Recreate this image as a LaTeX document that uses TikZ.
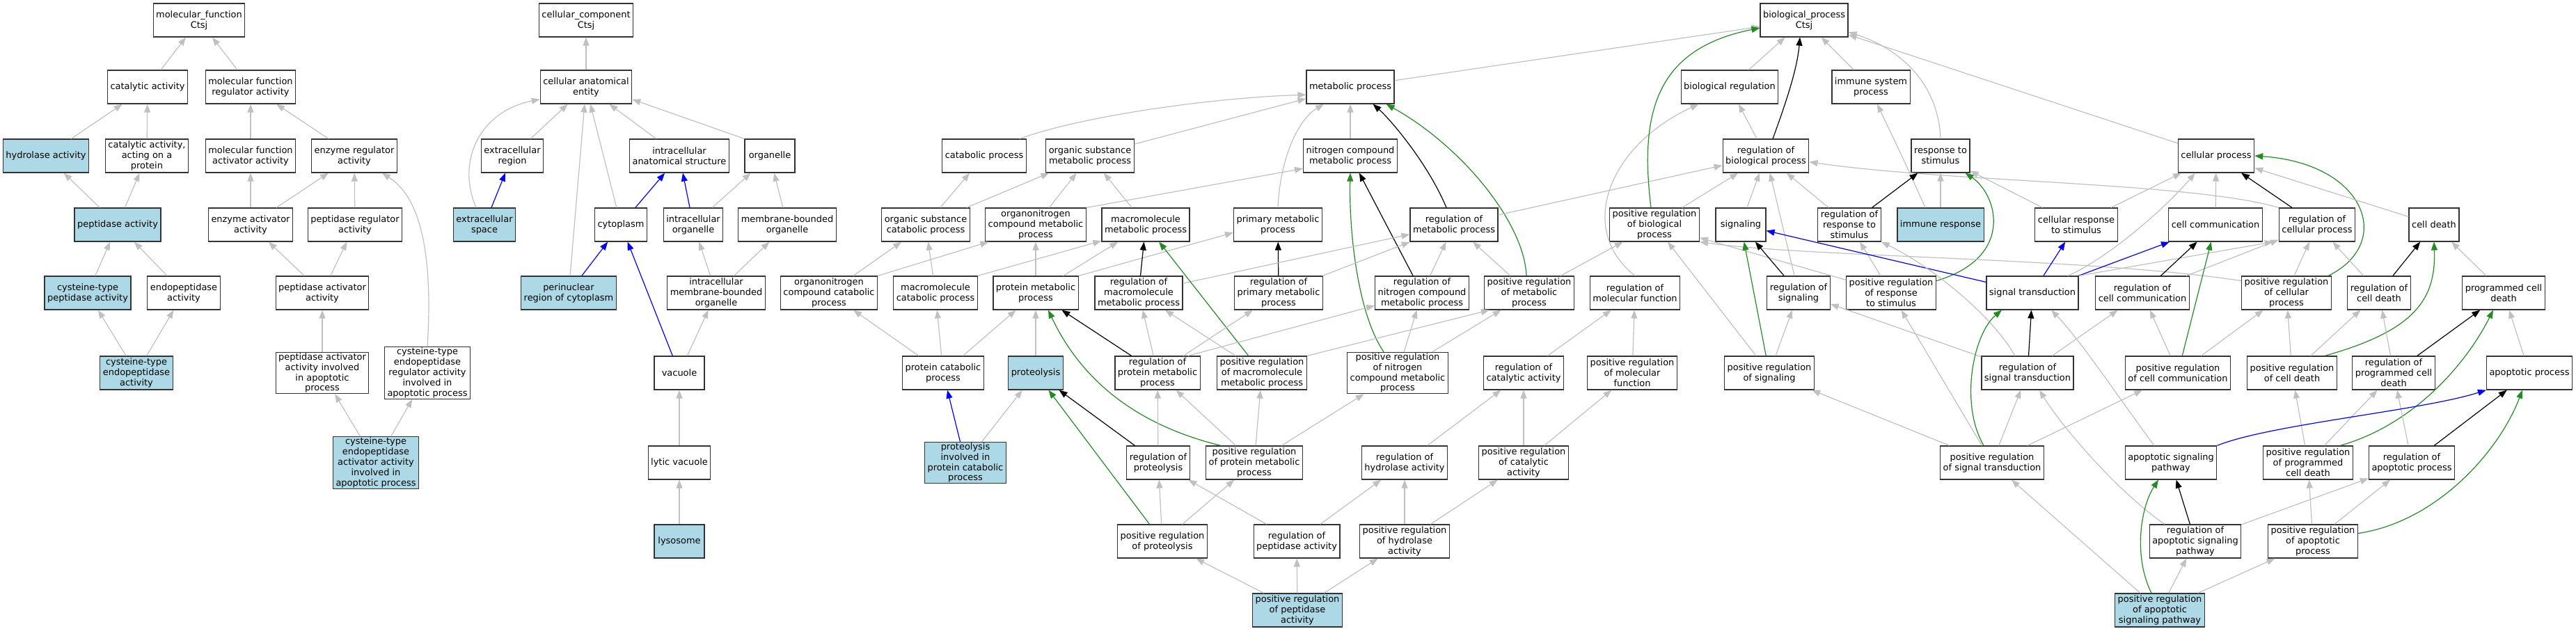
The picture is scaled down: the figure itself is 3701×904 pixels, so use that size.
\documentclass[tikz,border=0pt]{standalone}
\usepackage{fontspec}
\setmainfont{DejaVu Sans}
\usetikzlibrary{arrows.meta}
\definecolor{edgegray}{HTML}{C0C0C0}
\definecolor{termblue}{HTML}{ADD8E6}
\definecolor{posgreen}{HTML}{228B22}
\begin{document}
\begin{tikzpicture}[x=1bp,y=-1bp,
  term/.style={draw=black!80,line width=1.2bp,fill=white,align=center,
    font={\fontsize{13}{15}\selectfont},inner xsep=4bp,inner ysep=1bp,
    minimum height=48bp,minimum width=72bp},
  hit/.style={term,fill=termblue},
  link/.style={line width=1.2bp,-{Triangle[length=12bp,width=9bp]}},
  isa/.style={link,draw=edgegray},
  regl/.style={link,draw=black},
  partof/.style={link,draw=blue},
  posreg/.style={link,draw=posgreen}]
\useasboundingbox (0,0) rectangle (3701,904);

% Molecular function terms
\node[term] (mf) at (286,29) {molecular\_function\\Ctsj};
\node[term] (catact) at (212,125) {catalytic activity};
\node[term] (mfreg) at (360,125) {molecular function\\regulator activity};
\node[hit] (hydro) at (66,224) {hydrolase activity};
\node[term] (catprot) at (211,224) {catalytic activity,\\acting on a\\protein};
\node[term] (mfact) at (360,224) {molecular function\\activator activity};
\node[term] (enzreg) at (509,224) {enzyme regulator\\activity};
\node[hit] (pept) at (169,323) {peptidase activity};
\node[term] (enzact) at (360,323) {enzyme activator\\activity};
\node[term] (peptreg) at (510,323) {peptidase regulator\\activity};
\node[hit] (cyspept) at (126,421) {cysteine-type\\peptidase activity};
\node[term] (endopept) at (264,421) {endopeptidase\\activity};
\node[term] (peptact) at (463,421) {peptidase activator\\activity};
\node[hit] (cysendo) at (196,536) {cysteine-type\\endopeptidase\\activity};
\node[term] (paaap) at (463,536) {peptidase activator\\activity involved\\in apoptotic\\process};
\node[term] (cerai) at (614,536) {cysteine-type\\endopeptidase\\regulator activity\\involved in\\apoptotic process};
\node[hit] (ceaai) at (540,665) {cysteine-type\\endopeptidase\\activator activity\\involved in\\apoptotic process};

% Cellular component terms
\node[term] (cc) at (842,29) {cellular\_component\\Ctsj};
\node[term] (cae) at (842,125) {cellular anatomical\\entity};
\node[term] (exreg) at (736,224) {extracellular\\region};
\node[term] (ias) at (976,224) {intracellular\\anatomical structure};
\node[term] (organelle) at (1106,224) {organelle};
\node[hit] (exsp) at (696,323) {extracellular\\space};
\node[term] (cyto) at (892,323) {cytoplasm};
\node[term] (iorg) at (996,323) {intracellular\\organelle};
\node[term] (mbo) at (1131,323) {membrane-bounded\\organelle};
\node[hit] (perinuc) at (817,421) {perinuclear\\region of cytoplasm};
\node[term] (imbo) at (1029,421) {intracellular\\membrane-bounded\\organelle};
\node[term] (vacuole) at (976,536) {vacuole};
\node[term] (lytvac) at (976,665) {lytic vacuole};
\node[hit] (lyso) at (976,778) {lysosome};

% Biological process terms
\node[term] (bp) at (2592,29) {biological\_process\\Ctsj};
\node[term] (metab) at (1940,125) {metabolic process};
\node[term] (bioreg) at (2485,125) {biological regulation};
\node[term] (immsys) at (2688,125) {immune system\\process};
\node[term] (catab) at (1414,224) {catabolic process};
\node[term] (osmp) at (1566,224) {organic substance\\metabolic process};
\node[term] (ncmp) at (1940,224) {nitrogen compound\\metabolic process};
\node[term] (rbp) at (2537,224) {regulation of\\biological process};
\node[term] (rts) at (2788,224) {response to\\stimulus};
\node[term] (cellp) at (3184,224) {cellular process};
\node[term] (oscp) at (1330,323) {organic substance\\catabolic process};
\node[term] (oncmp) at (1488,323) {organonitrogen\\compound metabolic\\process};
\node[term] (mmp) at (1646,323) {macromolecule\\metabolic process};
\node[term] (pmp) at (1836,323) {primary metabolic\\process};
\node[term] (rmp) at (2089,323) {regulation of\\metabolic process};
\node[term] (prbp) at (2377,323) {positive regulation\\of biological\\process};
\node[term] (sig) at (2501,323) {signaling};
\node[term] (rrts) at (2657,323) {regulation of\\response to\\stimulus};
\node[hit] (immresp) at (2788,323) {immune response};
\node[term] (crts) at (2983,323) {cellular response\\to stimulus};
\node[term] (cellcomm) at (3183,323) {cell communication};
\node[term] (rcp) at (3329,323) {regulation of\\cellular process};
\node[term] (death) at (3497,323) {cell death};
\node[term] (onccp) at (1191,421) {organonitrogen\\compound catabolic\\process};
\node[term] (mcp) at (1344,421) {macromolecule\\catabolic process};
\node[term] (protmp) at (1488,421) {protein metabolic\\process};
\node[term] (rmmp) at (1636,421) {regulation of\\macromolecule\\metabolic process};
\node[term] (rpmp) at (1837,421) {regulation of\\primary metabolic\\process};
\node[term] (rncmp) at (2043,421) {regulation of\\nitrogen compound\\metabolic process};
\node[term] (prmp) at (2197,421) {positive regulation\\of metabolic\\process};
\node[term] (rmf) at (2349,421) {regulation of\\molecular function};
\node[term] (rsig) at (2584,421) {regulation of\\signaling};
\node[term] (prrts) at (2717,421) {positive regulation\\of response\\to stimulus};
\node[term] (sigtr) at (2920,421) {signal transduction};
\node[term] (rcc) at (3078,421) {regulation of\\cell communication};
\node[term] (prcp) at (3285,421) {positive regulation\\of cellular\\process};
\node[term] (rcd) at (3418,421) {regulation of\\cell death};
\node[term] (pcd) at (3597,421) {programmed cell\\death};
\node[term] (protcat) at (1355,536) {protein catabolic\\process};
\node[hit] (proteol) at (1488,536) {proteolysis};
\node[term] (rprotmp) at (1663,536) {regulation of\\protein metabolic\\process};
\node[term] (prmmp) at (1813,536) {positive regulation\\of macromolecule\\metabolic process};
\node[term] (prncmp) at (2008,536) {positive regulation\\of nitrogen\\compound metabolic\\process};
\node[term] (rcat) at (2189,536) {regulation of\\catalytic activity};
\node[term] (prmf) at (2345,536) {positive regulation\\of molecular\\function};
\node[term] (prsig) at (2542,536) {positive regulation\\of signaling};
\node[term] (rst) at (2913,536) {regulation of\\signal transduction};
\node[term] (prcc) at (3129,536) {positive regulation\\of cell communication};
\node[term] (prcd) at (3293,536) {positive regulation\\of cell death};
\node[term] (rpcd) at (3439,536) {regulation of\\programmed cell\\death};
\node[term] (apop) at (3634,536) {apoptotic process};
\node[hit] (pipcp) at (1387,665) {proteolysis\\involved in\\protein catabolic\\process};
\node[term] (rprot) at (1664,665) {regulation of\\proteolysis};
\node[term] (prprotmp) at (1802,665) {positive regulation\\of protein metabolic\\process};
\node[term] (rhydro) at (2018,665) {regulation of\\hydrolase activity};
\node[term] (prcat) at (2189,665) {positive regulation\\of catalytic\\activity};
\node[term] (prst) at (2862,665) {positive regulation\\of signal transduction};
\node[term] (asp) at (3119,665) {apoptotic signaling\\pathway};
\node[term] (prpcd) at (3316,665) {positive regulation\\of programmed\\cell death};
\node[term] (rap) at (3465,665) {regulation of\\apoptotic process};
\node[term] (prprot) at (1670,778) {positive regulation\\of proteolysis};
\node[term] (rpept) at (1863,778) {regulation of\\peptidase activity};
\node[term] (prhydro) at (2018,778) {positive regulation\\of hydrolase\\activity};
\node[term] (rasp) at (3154,778) {regulation of\\apoptotic signaling\\pathway};
\node[term] (prap) at (3323,778) {positive regulation\\of apoptotic\\process};
\node[hit] (prpept) at (1864,877) {positive regulation\\of peptidase\\activity};
\node[hit] (prasp) at (3103,877) {positive regulation\\of apoptotic\\signaling pathway};

% Molecular function edges
\draw[isa] (catact) -- (mf);
\draw[isa] (mfreg) -- (mf);
\draw[isa] (hydro) -- (catact);
\draw[isa] (catprot) -- (catact);
\draw[isa] (mfact) -- (mfreg);
\draw[isa] (enzreg) -- (mfreg);
\draw[isa] (pept) -- (hydro);
\draw[isa] (pept) -- (catprot);
\draw[isa] (enzact) -- (mfact);
\draw[isa] (enzact) -- (enzreg);
\draw[isa] (peptreg) -- (enzreg);
\draw[isa] (cyspept) -- (pept);
\draw[isa] (endopept) -- (pept);
\draw[isa] (peptact) -- (enzact);
\draw[isa] (peptact) -- (peptreg);
\draw[isa] (cysendo) -- (cyspept);
\draw[isa] (cysendo) -- (endopept);
\draw[isa] (paaap) -- (peptact);
\draw[isa] (cerai.north) .. controls (622,370) and (606,285) .. ([xshift=-22bp]enzreg.south east);
\draw[isa] (ceaai) -- (paaap);
\draw[isa] (ceaai) -- (cerai);

% Cellular component edges
\draw[isa] (cae) -- (cc);
\draw[isa] (exreg) -- (cae);
\draw[isa] ([xshift=-12bp]exsp.north) .. controls (655,230) and (690,160) .. (cae.195);
\draw[partof] (exsp) -- (exreg);
\draw[isa] (perinuc) -- (cae);
\draw[partof] (perinuc) -- (cyto);
\draw[isa] (cyto) -- (cae);
\draw[partof] (cyto) -- (ias);
\draw[isa] (ias) -- (cae);
\draw[isa] (organelle.north west) -- (cae.-15);
\draw[partof] (iorg) -- (ias);
\draw[isa] (iorg) -- (organelle);
\draw[isa] (mbo) -- (organelle);
\draw[isa] (imbo) -- (iorg);
\draw[isa] (imbo) -- (mbo);
\draw[isa] (vacuole) -- (imbo);
\draw[partof] (vacuole) -- (cyto);
\draw[isa] (lytvac) -- (vacuole);
\draw[isa] (lyso) -- (lytvac);

% Metabolism edges
\draw[isa] (metab) -- (bp);
\draw[isa] ([xshift=-10bp]catab.north east) .. controls (1560,165) and (1750,140) .. (metab.190);
\draw[isa] (osmp) -- (metab);
\draw[isa] (pmp.north) .. controls (1838,240) and (1860,175) .. ([xshift=-38bp]metab.south);
\draw[isa] (ncmp) -- (metab);
\draw[regl] ([xshift=-11bp]rmp.north) .. controls (2053,238) and (2001,175) .. ([xshift=-31bp]metab.south east);
\draw[posreg] ([xshift=-4bp]prmp.north) .. controls (2190,320) and (2100,210) .. ([xshift=-12bp]metab.south east);
\draw[isa] (oncmp.north east) -- (ncmp.195);
\draw[regl] (rncmp) -- (ncmp);
\draw[posreg] ([xshift=-20bp]prncmp.north) .. controls (1950,450) and (1938,330) .. (ncmp.south);
\draw[isa] (oscp) -- (catab);
\draw[isa] (oscp) -- (osmp);
\draw[isa] (oncmp) -- (osmp);
\draw[isa] (mmp) -- (osmp);
\draw[isa] (onccp) -- (oscp);
\draw[isa] (onccp.north east) -- (oncmp.200);
\draw[isa] (mcp) -- (oscp);
\draw[isa] (mcp.north east) -- (mmp.200);
\draw[isa] (protmp) -- (oncmp);
\draw[isa] (protmp) -- (mmp);
\draw[isa] (protmp.north east) -- (pmp.190);
\draw[regl] (rmmp) -- (mmp);
\draw[regl] (rpmp) -- (pmp);
\draw[isa] (rmmp) -- (rmp);
\draw[isa] (rpmp) -- (rmp);
\draw[posreg] (prmmp) -- (mmp);
\draw[isa] (rmp) -- (rbp);
\draw[isa] (rncmp) -- (rmp);
\draw[isa] (prmp) -- (rmp);
\draw[isa] (prmp) -- (prbp);
\draw[isa] (protcat) -- (onccp);
\draw[isa] (protcat) -- (mcp);
\draw[isa] (protcat) -- (protmp);
\draw[isa] (proteol) -- (protmp);
\draw[partof] (pipcp) -- (protcat);
\draw[isa] (pipcp) -- (proteol);
\draw[regl] (rprotmp) -- (protmp);
\draw[isa] (rprotmp) -- (rmmp);
\draw[isa] (rprotmp) -- (rpmp);
\draw[isa] ([xshift=-18bp]rprotmp.north east) -- (rncmp.195);
\draw[isa] (prmmp) -- (rmmp);
\draw[isa] (prmmp.north east) -- ([xshift=8bp]prmp.south west);
\draw[isa] (prncmp) -- (rncmp);
\draw[isa] (prncmp) -- (prmp);
\draw[posreg] ([xshift=22bp]prprotmp.north west) .. controls (1650,615) and (1560,560) .. ([xshift=18bp]protmp.south);
\draw[isa] (prprotmp) -- (rprotmp);
\draw[isa] (prprotmp) -- (prmmp);
\draw[isa] (prprotmp) -- (prncmp);
\draw[regl] (rprot) -- (proteol);
\draw[isa] (rprot) -- (rprotmp);
\draw[posreg] (prprot) -- (proteol);
\draw[isa] (prprot) -- (rprot);
\draw[isa] (prprot) -- (prprotmp);
\draw[isa] (rpept) -- (rprot);
\draw[isa] (rpept) -- (rhydro);
\draw[isa] (prpept) -- (rpept);
\draw[isa] (prpept) -- (prhydro);
\draw[isa] (prpept) -- (prprot);
\draw[isa] (prhydro) -- (rhydro);
\draw[isa] (prhydro) -- (prcat);
\draw[isa] (rhydro) -- (rcat);
\draw[isa] (prcat) -- (rcat);
\draw[isa] (prcat) -- (prmf);
\draw[isa] (rcat) -- (rmf);
\draw[isa] (prmf) -- (rmf);
\draw[isa] (rmf.north) .. controls (2265,330) and (2310,210) .. ([xshift=26bp]bioreg.south west);

% Regulation and signalling edges
\draw[isa] (bioreg) -- (bp);
\draw[isa] (immsys) -- (bp);
\draw[regl] ([xshift=10bp]rbp.north) .. controls (2565,150) and (2582,100) .. ([xshift=-6bp]bp.south);
\draw[isa] (rbp) -- (bioreg);
\draw[isa] (rts.north) .. controls (2785,120) and (2730,70) .. (bp.-15);
\draw[isa] (cellp) -- (bp);
\draw[posreg] ([xshift=-5bp]prbp.north) .. controls (2355,160) and (2380,70) .. (bp.190);
\draw[isa] (prbp) -- (rbp);
\draw[isa] (sig) -- (rbp);
\draw[isa] (rsig) -- (rbp);
\draw[isa] (rrts) -- (rbp);
\draw[isa] (rcp.north west) .. controls (3150,262) and (2800,262) .. (rbp.-8);
\draw[isa] ([xshift=-22bp]immresp.north) .. controls (2740,240) .. ([xshift=9bp]immsys.south);
\draw[isa] (immresp) -- (rts);
\draw[regl] (rrts) -- (rts);
\draw[posreg] (prrts.15) .. controls (2895,370) and (2870,280) .. ([xshift=-7bp]rts.south east);
\draw[isa] (prrts) -- (rrts);
\draw[isa] (prrts) -- (prbp);
\draw[isa] (crts) -- (rts);
\draw[isa] (crts) -- (cellp);
\draw[isa] (prcp.165) .. controls (3000,370) and (2600,370) .. (prbp.south east);
\draw[isa] (prsig) -- (prbp);
\draw[posreg] (prsig) -- (sig);
\draw[isa] (prsig) -- (rsig);
\draw[regl] (rsig) -- (sig);
\draw[partof] (sigtr) -- (sig);
\draw[partof] (sigtr) -- (crts);
\draw[partof] (sigtr) -- (cellcomm);
\draw[isa] ([xshift=51bp]sigtr.north) .. controls (3030,370) and (3110,300) .. ([xshift=25bp]cellp.south west);
\draw[isa] (sigtr.north east) -- ([xshift=-8bp]rcp.south west);
\draw[isa] (cellcomm) -- (cellp);
\draw[regl] (rcp) -- (cellp);
\draw[regl] (rcc) -- (cellcomm);
\draw[isa] (rcc) -- (rcp);
\draw[posreg] (prcc) -- (cellcomm);
\draw[isa] (prcc) -- (rcc);
\draw[isa] (prcc) -- (prcp);
\draw[posreg] ([xshift=-5bp]prcp.north east) .. controls (3440,350) and (3400,235) .. (cellp.east);
\draw[isa] (prcp) -- (rcp);
\draw[isa] (death) -- (cellp);
\draw[regl] (rst) -- (sigtr);
\draw[isa] (rst) -- (rsig);
\draw[isa] (rst) -- (rcc);
\draw[isa] ([xshift=-18bp]rst.north) .. controls (2860,450) and (2770,380) .. (rrts.south east);
\draw[posreg] ([xshift=-12bp]prst.north) .. controls (2815,580) and (2835,480) .. ([xshift=-44bp]sigtr.south);
\draw[isa] (prst) -- (rst);
\draw[isa] (prst) -- (prsig);
\draw[isa] (prst) -- (prrts);
\draw[isa] (prst) -- (prcc);

% Cell death edges
\draw[regl] (rcd) -- (death);
\draw[isa] (rcd) -- (rcp);
\draw[isa] (pcd) -- (death);
\draw[posreg] ([xshift=-18bp]prcd.north east) .. controls (3470,475) and (3500,430) .. (death.south);
\draw[isa] (prcd) -- (rcd);
\draw[isa] (prcd) -- (prcp);
\draw[regl] (rpcd) -- (pcd);
\draw[isa] (rpcd) -- (rcd);
\draw[isa] (apop) -- (pcd);
\draw[posreg] ([xshift=-19bp]prpcd.north east) .. controls (3470,610) and (3545,520) .. ([xshift=-15bp]pcd.south);
\draw[isa] (prpcd) -- (rpcd);
\draw[isa] (prpcd) -- (prcd);
\draw[isa] (rap) -- (rpcd);
\draw[regl] (rap) -- (apop);
\draw[isa] (prap) -- (rap);
\draw[isa] (prap) -- (prpcd);
\draw[posreg] (prap.10) .. controls (3500,750) and (3590,650) .. ([xshift=-10bp]apop.south);
\draw[partof] (asp.north east) .. controls (3260,610) and (3480,590) .. (apop.south west);
\draw[isa] ([xshift=-24bp]asp.north) .. controls (3050,580) and (2990,490) .. ([xshift=27bp]sigtr.south);
\draw[regl] (rasp) -- (asp);
\draw[isa] (rasp) -- (rap);
\draw[isa] ([xshift=-44bp]rasp.north) .. controls (3040,705) and (2960,610) .. ([xshift=17bp]rst.south);
\draw[posreg] ([xshift=-12bp]prasp.north) .. controls (3065,800) and (3075,730) .. ([xshift=-18bp]asp.south);
\draw[isa] (prasp) -- (rasp);
\draw[isa] (prasp) -- (prap);
\draw[isa] (prasp) -- (prst);
\end{tikzpicture}
\end{document}
